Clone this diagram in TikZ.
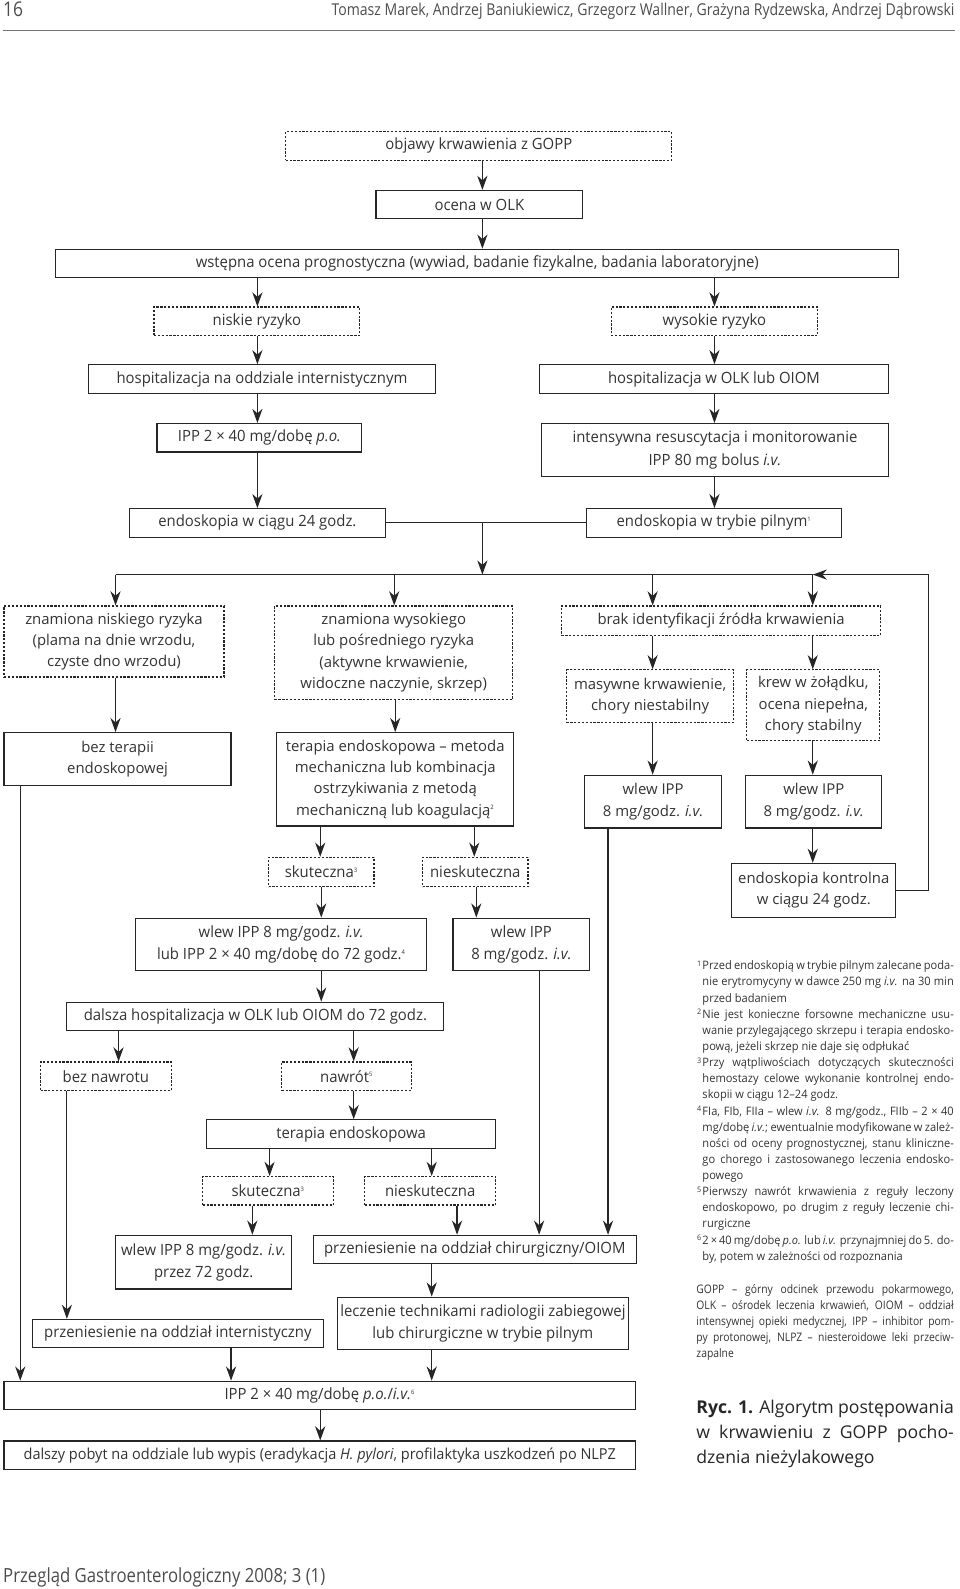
\documentclass[tikz,border=0pt]{standalone}
\usepackage{fontspec}
\setmainfont{Open Sans}
\newfontfamily\fcf[FakeStretch=0.96]{Open Sans}
\newfontfamily\fwf{Open Sans}
\newfontfamily\fff[FakeStretch=0.95]{Open Sans}
\newfontfamily\fnf[FakeStretch=0.88]{Open Sans}
\newfontfamily\fhf[FakeStretch=0.86]{Open Sans}
\usetikzlibrary{arrows.meta}
\newcommand\fnm[1]{\textsuperscript{\fontsize{6}{6}\selectfont #1}}
\newcommand\ftm[1]{\llap{\raisebox{3.4pt}{\fontsize{7.5}{7.5}\selectfont #1}\hspace{1.2pt}}}
\newcommand\mybox[7]{\node[#6, minimum width={(#4-#2)*1pt}, minimum height={(#5-#3)*1pt}] (#1) at ({(#2+#4)/2},{(#3+#5)/2}) {#7};}
\newcommand\vcon[3]{\path (#3,0) coordinate (vtmp); \draw[arr] (#1.south -| vtmp) -- (#2.north -| vtmp);}
\newcommand\jl[1]{\makebox[248pt][s]{#1}\\}
\newcommand\ja[1]{\makebox[254pt][s]{#1}\\}
\tikzset{
  bx/.style={draw=black!85, line width=1.15pt, inner sep=2pt, align=center, text=black!80},
  sbox/.style={bx, font={\fcf\fontsize{15.3}{21.5}\selectfont}},
  dbox/.style={sbox, dash pattern=on 2.2pt off 1.6pt},
  wbox/.style={bx, font={\fwf\fontsize{14.7}{21}\selectfont}},
  wdbox/.style={wbox, dash pattern=on 2.2pt off 1.6pt},
  arr/.style={draw=black!85, line width=1.15pt, -{Stealth[length=14pt,width=10pt,inset=4.5pt]}},
  ln/.style={draw=black!85, line width=1.15pt},
  plain/.style={inner sep=0pt, text=black!80},
}
\begin{document}
\begin{tikzpicture}[x=1pt,y=-1pt]
\useasboundingbox (0,0) rectangle (947,1568);
% header / footer
\node[plain, anchor=base west, text=black!70, font={\fhf\fontsize{20}{20}\selectfont}] (pg) at (3,16) {16};
\node[plain, anchor=base east, text=black!70, font={\fhf\fontsize{16.1}{16.1}\selectfont}] (au) at (942,15) {Tomasz Marek, Andrzej Baniukiewicz, Grzegorz Wallner, Grażyna Rydzewska, Andrzej Dąbrowski};
\draw[black!55, line width=1.3pt] (3,30) -- (942,30);
\node[plain, anchor=base west, text=black!70, font={\fhf\fontsize{19.2}{19.2}\selectfont}] (ft) at (3,1562) {Przegląd Gastroenterologiczny 2008; 3 (1)};
% top part
\mybox{n1}{282}{130}{663}{158}{dbox}{objawy krwawienia z GOPP}
\mybox{n2}{371}{188}{575}{216}{sbox}{ocena w OLK}
\mybox{n3}{55}{246}{887}{274}{sbox}{wstępna ocena prognostyczna (wywiad, badanie fizykalne, badania laboratoryjne)}
\mybox{n4}{152}{303}{355}{331}{dbox}{niskie ryzyko}
\mybox{n5}{603}{303}{807}{331}{dbox}{wysokie ryzyko}
\mybox{n6}{87}{360}{430}{388}{sbox}{hospitalizacja na oddziale internistycznym}
\mybox{n7}{532}{360}{877}{388}{sbox}{hospitalizacja w OLK lub OIOM}
\mybox{n8}{155}{418}{357}{446}{sbox}{IPP 2 × 40 mg/dobę \textit{p.o.}}
\mybox{n9}{534}{418}{877}{470}{sbox, font={\fcf\fontsize{15.3}{23}\selectfont}}{intensywna resuscytacja i monitorowanie\\IPP 80 mg bolus \textit{i.v.}}
\mybox{n10}{128}{502}{380}{530}{sbox}{endoskopia w ciągu 24 godz.}
\mybox{n11}{579}{502}{830}{530}{sbox}{endoskopia w trybie pilnym\fnm{1}}
% middle row
\mybox{n12}{4}{598}{221}{668}{wdbox}{znamiona niskiego ryzyka\\(plama na dnie wrzodu,\\czyste dno wrzodu)}
\mybox{n13}{271}{598}{506}{690}{wdbox}{znamiona wysokiego\\lub pośredniego ryzyka\\(aktywne krwawienie,\\widoczne naczynie, skrzep)}
\mybox{n14}{554}{598}{869}{627}{wdbox}{brak identyfikacji źródła krwawienia}
\mybox{n15}{559}{661}{724}{713}{wdbox}{masywne krwawienie,\\chory niestabilny}
\mybox{n16}{737}{661}{868}{731}{wdbox}{krew w żołądku,\\ocena niepełna,\\chory stabilny}
\mybox{n17}{4}{723}{228}{775}{wbox}{bez terapii\\endoskopowej}
\mybox{n18}{273}{723}{507}{815}{wbox}{terapia endoskopowa – metoda\\mechaniczna lub kombinacja\\ostrzykiwania z metodą\\mechaniczną lub koagulacją\fnm{2}}
\mybox{n19}{577}{765}{712}{817}{wbox}{wlew IPP\\8 mg/godz. \textit{i.v.}}
\mybox{n20}{736}{765}{870}{817}{wbox}{wlew IPP\\8 mg/godz. \textit{i.v.}}
% lower part
\mybox{n21}{265}{846}{369}{875}{dbox}{skuteczna\fnm{3}}
\mybox{n22}{417}{846}{521}{875}{dbox}{nieskuteczna}
\mybox{n23}{722}{852}{884}{905}{wbox}{endoskopia kontrolna\\w ciągu 24 godz.}
\mybox{n24}{134}{906}{421}{958}{sbox}{wlew IPP 8 mg/godz. \textit{i.v.}\\lub IPP 2 × 40 mg/dobę do 72 godz.\fnm{4}}
\mybox{n25}{447}{906}{582}{958}{sbox}{wlew IPP\\8 mg/godz. \textit{i.v.}}
\mybox{n26}{66}{989}{438}{1017}{sbox}{dalsza hospitalizacja w OLK lub OIOM do 72 godz.}
\mybox{n27}{40}{1048}{169}{1076}{dbox}{bez nawrotu}
\mybox{n28}{278}{1048}{406}{1076}{dbox}{nawrót\fnm{5}}
\mybox{n29}{204}{1105}{489}{1133}{sbox}{terapia endoskopowa}
\mybox{n30}{200}{1161}{329}{1189}{dbox}{skuteczna\fnm{3}}
\mybox{n31}{360}{1161}{489}{1189}{dbox}{nieskuteczna}
\mybox{n32}{114}{1219}{288}{1272}{sbox}{wlew IPP 8 mg/godz. \textit{i.v.}\\przez 72 godz.}
\mybox{n33}{309}{1219}{628}{1247}{sbox}{przeniesienie na oddział chirurgiczny/OIOM}
\mybox{n34}{333}{1280}{620}{1332}{sbox}{leczenie technikami radiologii zabiegowej\\lub chirurgiczne w trybie pilnym}
\mybox{n35}{32}{1302}{319}{1330}{sbox}{przeniesienie na oddział internistyczny}
\mybox{n36}{4}{1363}{627}{1391}{sbox}{IPP 2 × 40 mg/dobę \textit{p.o.}/\textit{i.v.}\fnm{6}}
\mybox{n37}{4}{1422}{627}{1450}{sbox, font={\fcf\fontsize{14.9}{21.5}\selectfont}}{dalszy pobyt na oddziale lub wypis (eradykacja \textit{H. pylori}, profilaktyka uszkodzeń po NLPZ}
% connectors top
\vcon{n1}{n2}{476}
\vcon{n2}{n3}{476}
\vcon{n3}{n4}{254}
\vcon{n3}{n5}{705}
\vcon{n4}{n6}{254}
\vcon{n5}{n7}{705}
\vcon{n6}{n8}{254}
\vcon{n7}{n9}{705}
\vcon{n8}{n10}{254}
\vcon{n9}{n11}{705}
\draw[ln] (n10.east) -- (n11.west);
\path (476,567) coordinate (bc) (114,567) coordinate (b1) (389,567) coordinate (b2)
      (644,567) coordinate (b3) (802,567) coordinate (b4) (916,567) coordinate (b5);
\draw[arr] (n10.east -| bc) -- (bc);
\draw[ln] (b1) -- (b4);
\draw[arr] (b1) -- (n12.north -| b1);
\draw[arr] (b2) -- (n13.north -| b2);
\draw[arr] (b3) -- (n14.north -| b3);
\draw[arr] (b4) -- (n14.north -| b4);
\draw[arr] (n23.east) -| (b5) -- (b4);
% middle
\vcon{n12}{n17}{114}
\vcon{n13}{n18}{390}
\vcon{n14}{n15}{644}
\vcon{n14}{n16}{802}
\vcon{n15}{n19}{644}
\vcon{n16}{n20}{802}
\vcon{n20}{n23}{802}
\vcon{n17}{n36}{20}
\vcon{n18}{n21}{316}
\vcon{n18}{n22}{468}
\vcon{n21}{n24}{317}
\vcon{n22}{n25}{470}
\vcon{n24}{n26}{317}
\vcon{n26}{n27}{117}
\vcon{n26}{n28}{349}
\vcon{n28}{n29}{349}
\vcon{n27}{n35}{66}
\vcon{n29}{n30}{266}
\vcon{n29}{n31}{426}
\vcon{n30}{n32}{249}
\vcon{n31}{n33}{451}
\vcon{n25}{n33}{532}
\vcon{n19}{n33}{600}
\vcon{n33}{n34}{426}
\vcon{n34}{n36}{426}
\vcon{n35}{n36}{228}
\vcon{n36}{n37}{316}
% footnotes
\node[plain, anchor=base west, font={\fff\fontsize{11.5}{15.92}\selectfont}] (fn) at (693,957) {\parbox[t]{248pt}{%
\jl{\ftm{1}Przed endoskopią w trybie pilnym zalecane poda-}
\jl{nie erytromycyny w dawce 250 mg \textit{i.v.} na 30 min}
przed badaniem\\
\jl{\ftm{2}Nie jest konieczne forsowne mechaniczne usu-}
\jl{wanie przylegającego skrzepu i terapia endosko-}
pową, jeżeli skrzep nie daje się odpłukać\\
\jl{\ftm{3}Przy wątpliwościach dotyczących skuteczności}
\jl{hemostazy celowe wykonanie kontrolnej endo-}
skopii w ciągu 12–24 godz.\\
\jl{\ftm{4}FIa, FIb, FIIa – wlew \textit{i.v.} 8 mg/godz., FIIb – 2 × 40}
\jl{mg/dobę \textit{i.v.}; ewentualnie modyfikowane w zależ-}
\jl{ności od oceny prognostycznej, stanu kliniczne-}
\jl{go chorego i zastosowanego leczenia endosko-}
powego\\
\jl{\ftm{5}Pierwszy nawrót krwawienia z reguły leczony}
\jl{endoskopowo, po drugim z reguły leczenie chi-}
rurgiczne\\
\jl{\ftm{6}2 × 40 mg/dobę \textit{p.o.} lub \textit{i.v.} przynajmniej do 5. do-}
by, potem w zależności od rozpoznania}};
\node[plain, anchor=base west, font={\fnf\fontsize{11.6}{16}\selectfont}] (ab) at (687,1276) {\parbox[t]{254pt}{%
\ja{GOPP – górny odcinek przewodu pokarmowego,}
\ja{OLK – ośrodek leczenia krwawień, OIOM – oddział}
\ja{intensywnej opieki medycznej, IPP – inhibitor pom-}
\ja{py protonowej, NLPZ – niesteroidowe leki przeciw-}
zapalne}};
\node[plain, anchor=base west, text=black!85, font={\fwf\fontsize{17.4}{24.5}\selectfont}] (cap) at (687,1395) {\parbox[t]{254pt}{%
\ja{\textbf{Ryc. 1.} Algorytm postępowania}
\ja{w krwawieniu z GOPP pocho-}
dzenia nieżylakowego}};
\end{tikzpicture}
\end{document}
